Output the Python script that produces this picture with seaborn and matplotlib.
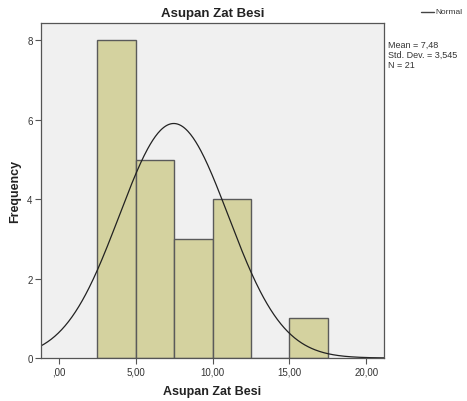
import numpy as np
import pandas as pd
import seaborn as sns
import matplotlib
matplotlib.use("Agg")
import matplotlib.pyplot as plt

# Data
bin_edges = [2.5, 5.0, 7.5, 10.0, 12.5, 15.0, 17.5]
bin_centers = [3.75, 6.25, 8.75, 11.25, 13.75, 16.25]
counts = [8, 5, 3, 4, 0, 1]
mean_val = 7.48
std_val = 3.545
n_val = 21
x_ticks = [0, 5, 10, 15, 20]
x_tick_labels = [",00", "5,00", "10,00", "15,00", "20,00"]
y_ticks = [0, 2, 4, 6, 8]

sns.set_theme(style="white")
plt.rcParams['font.family'] = ['Liberation Sans', 'DejaVu Sans']

fig = plt.figure(figsize=(4.67, 4.02), dpi=100)
ax = fig.add_axes([41/467, 43/402, (384-41)/467, (359-24)/402])
ax.set_facecolor("#f0f0f0")

df = pd.DataFrame({"x": bin_centers, "w": counts})
sns.histplot(data=df, x="x", weights="w", bins=bin_edges, ax=ax,
             color="#d4d29f", edgecolor="#5a5a5a", linewidth=1.0, alpha=1.0)

xs = np.linspace(-1.15, 21.15, 400)
binw = bin_edges[1] - bin_edges[0]
ys = n_val * binw / (std_val * np.sqrt(2 * np.pi)) * np.exp(-0.5 * ((xs - mean_val) / std_val) ** 2)
sns.lineplot(x=xs, y=ys, ax=ax, color="#222222", linewidth=0.9)

ax.set_xlim(-1.15, 21.15)
ax.set_ylim(0, 8.44)
ax.set_xticks(x_ticks)
ax.set_xticklabels(x_tick_labels)
ax.set_yticks(y_ticks)
ax.set_yticklabels([str(v) for v in y_ticks])
ax.tick_params(axis="both", which="both", direction="out", length=4, width=0.8,
               color="#555555", labelsize=7, labelcolor="#333333", pad=2,
               bottom=True, left=True)
for s in ax.spines.values():
    s.set_color("#555555")
    s.set_linewidth(0.9)

ax.set_xlabel("Asupan Zat Besi", fontsize=9, fontweight="bold", color="#222222", labelpad=6)
ax.set_ylabel("Frequency", fontsize=9, fontweight="bold", color="#222222", labelpad=4)
ax.set_title("Asupan Zat Besi", fontsize=9.5, fontweight="bold", color="#222222", pad=5)

# Legend
fig.lines.append(plt.Line2D([421/467, 434/467], [1 - 13/402, 1 - 13/402],
                            transform=fig.transFigure, color="#444444", linewidth=1.0))
fig.text(435/467, 1 - 13/402, "Normal", fontsize=6, color="#333333", va="center", ha="left")

fig.text(388/467, 1 - 41/402,
         f"Mean = 7,48\nStd. Dev. = 3,545\nN = {n_val}",
         fontsize=6.5, color="#333333", va="top", ha="left", linespacing=1.15)

fig.savefig("out.png", dpi=100)
